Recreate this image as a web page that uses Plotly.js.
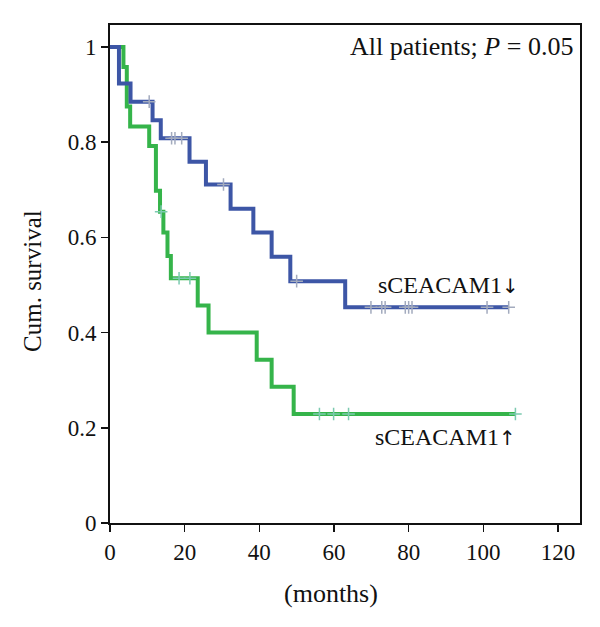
<!DOCTYPE html>
<html>
<head>
<meta charset="utf-8">
<script src="https://cdn.plot.ly/plotly-3.0.1.min.js"></script>
<style>html,body{margin:0;padding:0;background:#fff}#chart{width:600px;height:627px}</style>
</head>
<body>
<div id="chart"></div>
<script>
// sCEACAM1 low (down arrow) group: event times (months) and survival after each event
const lowTimes = [0, 2.4, 5.5, 11.4, 13.6, 21.3, 25.7, 32.3, 38.4, 43.3, 48.3, 63.0];
const lowSurv  = [1, 0.923, 0.885, 0.846, 0.808, 0.759, 0.711, 0.660, 0.610, 0.559, 0.508, 0.453];
const lowEnd = 106.8;
const lowCensor = [10.5, 16.5, 17.4, 19.2, 30.4, 50.0, 69.9, 72.8, 73.7, 79.1, 80.0, 80.9, 101.0, 106.8];

// sCEACAM1 high (up arrow) group
const highTimes = [0, 3.6, 4.5, 5.4, 10.5, 12.3, 13.4, 14.3, 15.4, 16.3, 23.5, 26.4, 39.3, 43.3, 49.2];
const highSurv  = [1, 0.958, 0.875, 0.833, 0.792, 0.698, 0.654, 0.610, 0.561, 0.514, 0.457, 0.400, 0.343, 0.286, 0.229];
const highEnd = 108.6;
const highCensor = [13.7, 18.5, 21.4, 56.1, 59.9, 63.9, 108.6];

const xTicks = [0, 20, 40, 60, 80, 100, 120];
const yTicks = [0, 0.2, 0.4, 0.6, 0.8, 1];
const yTickText = ['0', '0.2', '0.4', '0.6', '0.8', '1'];

function survAt(times, surv, t) {
  let s = surv[0];
  for (let i = 0; i < times.length; i++) { if (times[i] <= t) s = surv[i]; }
  return s;
}
function stepTrace(times, surv, end, color) {
  return {x: times.concat([end]), y: surv.concat([surv[surv.length - 1]]), mode: 'lines',
    line: {shape: 'hv', color: color, width: 4}, hoverinfo: 'skip', showlegend: false};
}
function censorTrace(times, surv, cens, color) {
  return {x: cens, y: cens.map(t => survAt(times, surv, t)), mode: 'markers',
    marker: {symbol: 'cross-thin-open', size: 9, color: color, line: {color: color, width: 1.5}},
    hoverinfo: 'skip', showlegend: false};
}

const blue = '#3d56a6', green = '#35b44a';
const serif = 'Liberation Serif, DejaVu Serif, serif';
const arrowSpan = s => '<span style="font-family:DejaVu Sans;font-size:20px">' + s + '</span>';
const data = [
  stepTrace(highTimes, highSurv, highEnd, green),
  censorTrace(highTimes, highSurv, highCensor, '#7ccab0'),
  stepTrace(lowTimes, lowSurv, lowEnd, blue),
  censorTrace(lowTimes, lowSurv, lowCensor, '#a3abbe')
];

const layout = {
  width: 600, height: 627,
  margin: {l: 110, r: 20, t: 25, b: 104},
  paper_bgcolor: '#fff', plot_bgcolor: '#fff',
  font: {family: serif, size: 23, color: '#111'},
  xaxis: {range: [0, 125.9], tickvals: xTicks, ticks: 'outside', ticklen: 7, tickwidth: 1.5,
    tickcolor: '#111', showline: true, linecolor: '#111', linewidth: 2, mirror: true,
    showgrid: false, zeroline: false, fixedrange: true},
  yaxis: {range: [0, 1.046], tickvals: yTicks, ticktext: yTickText, ticks: 'outside', ticklen: 7,
    tickwidth: 1.5, tickcolor: '#111', showline: true, linecolor: '#111', linewidth: 2, mirror: true,
    showgrid: false, zeroline: false, fixedrange: true},
  annotations: [
    {x: 59.3, xref: 'x', y: -0.1406, yref: 'paper', xanchor: 'center', yanchor: 'middle',
      text: '(months)', showarrow: false, font: {size: 26}},
    {x: -0.1638, xref: 'paper', y: 0.486, yref: 'paper', xanchor: 'center', yanchor: 'middle',
      text: 'Cum. survival', textangle: -90, showarrow: false, font: {size: 25}},
    {x: 0.99, xref: 'paper', y: 1.0, yref: 'y', xanchor: 'right', yanchor: 'middle',
      text: 'All patients; <i>P</i> = 0.05', showarrow: false, font: {size: 26}},
    {x: 110.0, xref: 'x', y: 0.50, yref: 'y', xanchor: 'right', yanchor: 'middle',
      text: 'sCEACAM1' + arrowSpan('↓'), showarrow: false, font: {size: 24}},
    {x: 109.2, xref: 'x', y: 0.181, yref: 'y', xanchor: 'right', yanchor: 'middle',
      text: 'sCEACAM1' + arrowSpan('↑'), showarrow: false, font: {size: 24}}
  ]
};
Plotly.newPlot('chart', data, layout, {displayModeBar: false, staticPlot: true});
</script>
</body>
</html>
